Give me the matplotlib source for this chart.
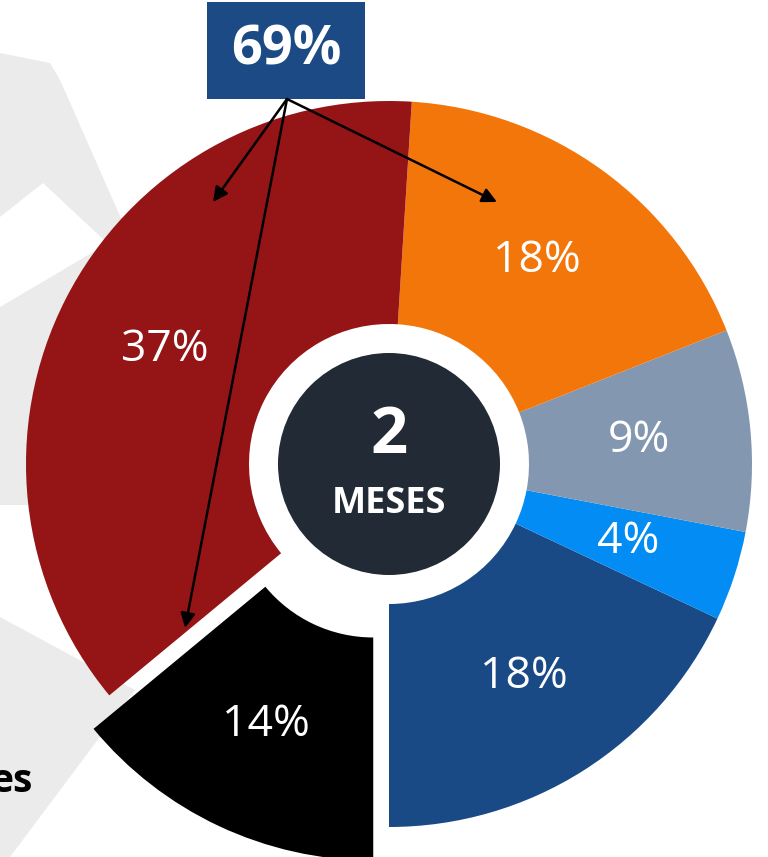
import numpy as np
import matplotlib.pyplot as plt
from matplotlib.patches import Circle, Rectangle, Polygon

plt.rcParams['font.family'] = ['Open Sans', 'DejaVu Sans']

# porcentajes (sentido antihorario desde las 6 en punto)
shares = [18, 4, 9, 18, 37, 14]
colors = ['#1A4A85', '#038CF4', '#8497B0', '#F3760B', '#951416', '#000000']
explode = [0, 0, 0, 0, 0, 37]   # en pixeles, solo la porcion negra
total_label = '69%'
center_num = '2'
center_txt = 'MESES'

W, H = 768, 857
fig = plt.figure(figsize=(W / 100, H / 100), dpi=100)
ax = fig.add_axes([0, 0, 1, 1])


def y(py):
    # coordenada de pixel (desde arriba) -> datos
    return H - py


# marca de agua gris del fondo
gray = '#EBEBEB'
ax.add_patch(Polygon([(0, y(53)), (50, y(63)), (60, y(80)), (135, y(250)),
                      (135, y(505)), (0, y(505))], color=gray, lw=0, zorder=0))
ax.add_patch(Polygon([(0, y(217)), (43, y(183)), (150, y(283)), (100, y(248)),
                      (0, y(307))], color='white', lw=0, zorder=0.5))
ax.add_patch(Polygon([(0, y(617)), (135, y(690)), (10, y(857)), (0, y(857))],
                     color=gray, lw=0, zorder=0))

cx, cy = 389, y(464)
R, r_in = 363, 140
wedges, texts = ax.pie(shares, colors=colors, explode=explode, startangle=-90,
                       counterclock=True, center=(cx, cy), radius=R,
                       wedgeprops=dict(width=R - r_in, linewidth=0))
for w in wedges:
    w.set_zorder(2)

# etiquetas de porcentaje en el medio del anillo
for w, s, e in zip(wedges, shares, explode):
    ang = np.deg2rad((w.theta1 + w.theta2) / 2)
    rr = (R + r_in) / 2 + e
    ax.text(cx + rr * np.cos(ang), cy + rr * np.sin(ang), f'{s}%',
            ha='center', va='center', color='white', fontsize=32, zorder=5)

# circulo central
ax.add_patch(Circle((cx, cy), 111, color='#222A35', lw=0, zorder=3))
ax.text(cx, y(436), center_num, ha='center', va='center', color='white',
        fontsize=47, fontweight='bold', zorder=5)
ax.text(cx, y(504), center_txt, ha='center', va='center', color='white',
        fontsize=26, fontweight='bold', zorder=5)

# caja 69% con flechas
ax.add_patch(Rectangle((207, y(99)), 158, 97, color='#1B4A84', lw=0, zorder=4))
ax.text(286, y(50), total_label, ha='center', va='center', color='white',
        fontsize=39, fontweight='bold', zorder=5)
src = (287, y(99))
for tx, ty in [(213, 202), (497, 202), (185, 628)]:
    ax.annotate('', xy=(tx, y(ty)), xytext=src, zorder=6,
                arrowprops=dict(arrowstyle='-|>', color='black', lw=1.8,
                                mutation_scale=22, shrinkA=0, shrinkB=0))

ax.text(33, y(792), 'es', ha='right', va='baseline', color='black',
        fontsize=28, fontweight='bold', zorder=5)

ax.set_xlim(0, W)
ax.set_ylim(0, H)
ax.set_aspect('equal')
ax.axis('off')
fig.savefig('out.png', dpi=100)
